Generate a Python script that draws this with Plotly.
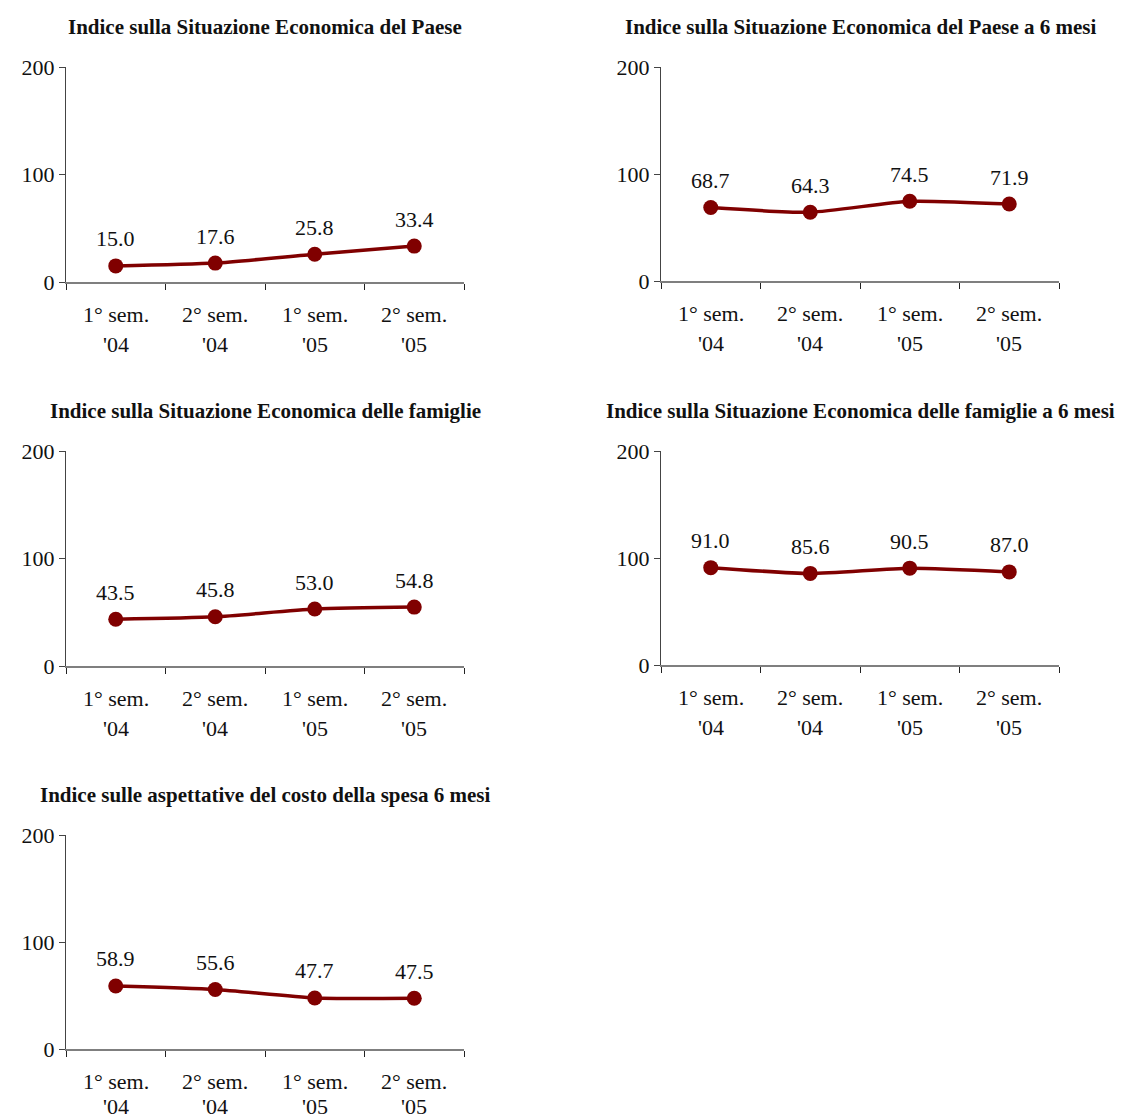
import plotly.graph_objects as go

# Semesters on the x axis (two-line labels)
semesters = ["1° sem.", "2° sem.", "1° sem.", "2° sem."]
years = ["'04", "'04", "'05", "'05"]

titles = [
    "Indice sulla Situazione Economica del Paese",
    "Indice sulla Situazione Economica del Paese a 6 mesi",
    "Indice sulla Situazione Economica delle famiglie",
    "Indice sulla Situazione Economica delle famiglie a 6 mesi",
    "Indice sulle aspettative del costo della spesa 6 mesi",
]

paese = [15.0, 17.6, 25.8, 33.4]
paese_6m = [68.7, 64.3, 74.5, 71.9]
famiglie = [43.5, 45.8, 53.0, 54.8]
famiglie_6m = [91.0, 85.6, 90.5, 87.0]
costo_spesa_6m = [58.9, 55.6, 47.7, 47.5]

series = [paese, paese_6m, famiglie, famiglie_6m, costo_spesa_6m]

y_ticks = [0, 100, 200]

W, H = 1121, 1119
LINE_COLOR = "#800000"
SERIF = "Liberation Serif, Times New Roman, serif"
TXT = "#111111"

# Panel boxes in pixels: (left, right, top, bottom)
panels = [
    (66, 464, 67, 282),
    (661, 1059, 67, 281),
    (66, 464, 451, 666),
    (661, 1059, 451, 665),
    (66, 464, 835, 1049),
]

fig = go.Figure()
annotations = []

for i, (vals, title, box) in enumerate(zip(series, titles, panels)):
    n = i + 1
    xa = "x" if n == 1 else f"x{n}"
    ya = "y" if n == 1 else f"y{n}"
    left, right, top, bottom = box
    xdom = [left / W, right / W]
    ydom = [1 - bottom / H, 1 - top / H]
    xpos = [k + 0.5 for k in range(len(vals))]

    fig.add_trace(go.Scatter(
        x=xpos, y=vals, xaxis=xa, yaxis=ya,
        mode="lines+markers",
        line=dict(color=LINE_COLOR, width=3.5, shape="spline", smoothing=0.6),
        marker=dict(color=LINE_COLOR, size=15),
        showlegend=False, hoverinfo="skip",
    ))

    axis_x = dict(
        domain=xdom, range=[0, len(vals)],
        anchor=ya, showgrid=False, zeroline=False, automargin=False,
        showline=True, linecolor="#7f7f7f", linewidth=1.5,
        tickmode="array", tickvals=list(range(len(vals) + 1)),
        ticks="outside", ticklen=6, tickcolor="#222222", tickwidth=1,
        showticklabels=False, fixedrange=True,
    )
    axis_y = dict(
        domain=ydom, range=[0, 200],
        anchor=xa, showgrid=False, zeroline=False, automargin=False,
        showline=True, linecolor="#444444", linewidth=1,
        tickmode="array", tickvals=y_ticks,
        ticks="outside", ticklen=6, tickcolor="#444444", tickwidth=1,
        tickfont=dict(family=SERIF, size=22, color=TXT),
        fixedrange=True,
    )
    fig.update_layout(**{
        ("xaxis" if n == 1 else f"xaxis{n}"): axis_x,
        ("yaxis" if n == 1 else f"yaxis{n}"): axis_y,
    })

    # Panel title
    annotations.append(dict(
        text=f"<b>{title}</b>", xref="paper", yref="paper",
        x=(xdom[0] + xdom[1]) / 2, y=1 - (top - 40) / H,
        xanchor="center", yanchor="middle", showarrow=False,
        font=dict(family=SERIF, size=21, color=TXT),
    ))

    # Value labels above each point
    for xp, v in zip(xpos, vals):
        annotations.append(dict(
            text=f"{v:.1f}", xref=xa, yref=ya, x=xp, y=v,
            xanchor="center", yanchor="middle", yshift=27, showarrow=False,
            font=dict(family=SERIF, size=22, color=TXT),
        ))

    # Category labels, two lines each (second line kept inside the page)
    line1_px = bottom + 32
    line2_px = min(bottom + 62, H - 13)
    for xp, s, yr in zip(xpos, semesters, years):
        annotations.append(dict(
            text=s, xref=xa, yref="paper", x=xp, y=1 - line1_px / H,
            xanchor="center", yanchor="middle", showarrow=False,
            font=dict(family=SERIF, size=22, color=TXT),
        ))
        annotations.append(dict(
            text=yr, xref=xa, yref="paper", x=xp, y=1 - line2_px / H,
            xanchor="center", yanchor="middle", showarrow=False,
            font=dict(family=SERIF, size=22, color=TXT),
        ))

fig.update_layout(
    template="none",
    width=W, height=H,
    margin=dict(l=0, r=0, t=0, b=0, pad=0, autoexpand=False),
    paper_bgcolor="white", plot_bgcolor="white",
    annotations=annotations,
    font=dict(family=SERIF),
)

fig.write_html("out.html", config={"displayModeBar": False})
